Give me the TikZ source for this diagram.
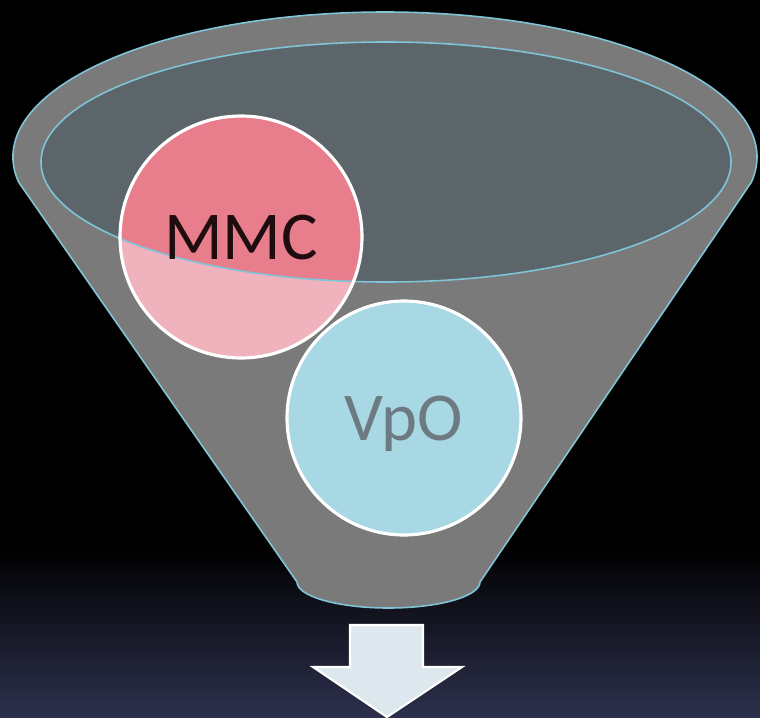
\documentclass[tikz,border=0pt]{standalone}
\usepackage{fontspec}
\newfontfamily\funnelfont{Carlito}
\usetikzlibrary{positioning, calc}

\definecolor{funnelgrey}{RGB}{122,122,122}
\definecolor{innerslate}{RGB}{91,101,106}
\definecolor{rimblue}{RGB}{128,196,216}
\definecolor{pinkdark}{RGB}{232,125,140}
\definecolor{pinklight}{RGB}{240,178,188}
\definecolor{vpoblue}{RGB}{168,216,228}
\definecolor{vpotext}{RGB}{110,122,130}
\definecolor{mmctext}{RGB}{30,12,14}
\definecolor{arrowfill}{RGB}{220,232,238}
\definecolor{navybottom}{RGB}{45,48,76}

\begin{document}
\begin{tikzpicture}[
    x=0.02cm, y=0.02cm,
    bubble/.style={circle, draw=white, line width=1.8pt, inner sep=0pt,
        text depth=0pt, font=\funnelfont\fontsize{39}{40}\selectfont},
    rim/.style={draw=rimblue, line width=0.9pt}
]
    \useasboundingbox (0,0) rectangle (760,-717);

    % === 1. Background ===
    \fill[black] (0,0) rectangle (760,-717);
    \shade[top color=black, bottom color=navybottom] (0,-545) rectangle (760,-717);

    % === 2. Funnel body ===
    \coordinate (top) at (385,-157);
    \coordinate (neck) at (388.5,-582);
    \path[fill=funnelgrey, rim] ($(top)+(190:372 and 145)$)
        arc[start angle=190, end angle=-10, x radius=372, y radius=145]
        -- ($(neck)+(91.5,0)$)
        arc[start angle=0, end angle=-180, x radius=91.5, y radius=26] -- cycle;

    % Inner opening
    \fill[innerslate] (386,-162) ellipse[x radius=345, y radius=120];

    % === 3. MMC circle ===
    \coordinate (mmc_c) at (241,-237);
    \fill[pinklight] (mmc_c) circle[radius=121];
    \begin{scope}
        \clip (386,-162) ellipse[x radius=345, y radius=120];
        \fill[pinkdark] (mmc_c) circle[radius=121];
    \end{scope}
    \draw[rim] (386,-162) ellipse[x radius=345, y radius=120];
    \node[bubble, minimum size=4.84cm, text=mmctext] (mmc) at (mmc_c) {MMC};

    % === 4. VpO circle ===
    \node[bubble, minimum size=4.68cm, fill=vpoblue, text=vpotext] (vpo) at (404,-418) {VpO};

    % === 5. Output arrow ===
    \filldraw[fill=arrowfill, draw=white, line width=1.2pt]
        (350,-625) -- (423,-625) -- (423,-667) -- (462,-667)
        -- (387,-717) -- (313,-667) -- (350,-667) -- cycle;

\end{tikzpicture}
\end{document}
